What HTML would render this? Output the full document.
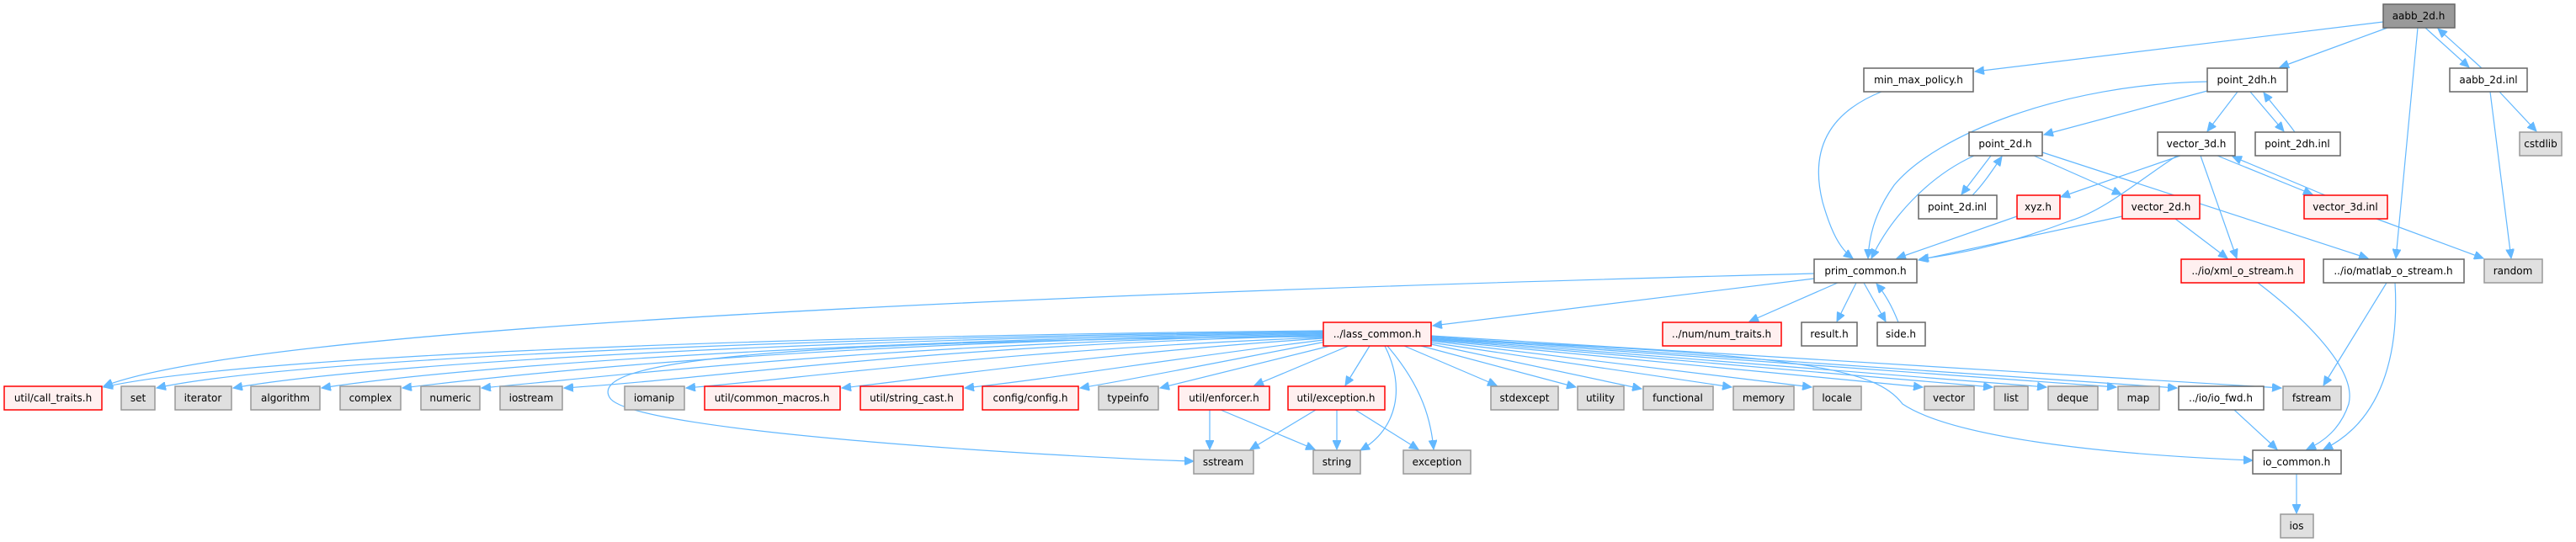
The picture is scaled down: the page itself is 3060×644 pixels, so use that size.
<!DOCTYPE html>
<html><head><meta charset="utf-8"><style>
html,body{margin:0;padding:0;background:#fff}
svg{display:block}
text{font-family:"DejaVu Sans","Liberation Sans",sans-serif;font-size:12px;fill:#000;text-anchor:middle;dominant-baseline:central}
.e{fill:none;stroke:#63b8ff;stroke-width:1.2;marker-end:url(#a)}
.w{fill:#fff;stroke:#666;stroke-width:1.5}
.g{fill:#e0e0e0;stroke:#999;stroke-width:1.5}
.r{fill:#fff0f0;stroke:#f00;stroke-width:1.5}
.k{fill:#999;stroke:#666;stroke-width:1.5}
</style></head><body>
<svg width="3060" height="644" viewBox="0 0 3060 644" xmlns="http://www.w3.org/2000/svg">
<defs><marker id="a" markerUnits="userSpaceOnUse" markerWidth="12" markerHeight="10" refX="11" refY="5" orient="auto"><path d="M0,0 L11,5 L0,10 z" fill="#63b8ff" stroke="#63b8ff"/></marker></defs>
<g>
<path class="e" d="M2831,26 L2346,85"/>
<path class="e" d="M2836,33 L2708,80"/>
<path class="e" d="M2872,33 L2846,307"/>
<path class="e" d="M2881,33 L2933,80"/>
<path class="e" d="M2948,81 L2896,34"/>
<path class="e" d="M2969,109 L3013,156"/>
<path class="e" d="M2958,109 L2983,307"/>
<path class="e" d="M2235,109 C2170,135 2150,180 2165,240 C2175,275 2185,295 2201,307"/>
<path class="e" d="M2622,97 C2450,100 2300,160 2250,220 C2225,255 2220,285 2219,307"/>
<path class="e" d="M2622,108 L2428,160"/>
<path class="e" d="M2658,109 L2622,156"/>
<path class="e" d="M2673,109 L2713,156"/>
<path class="e" d="M2726,157 C2710,135 2700,125 2689,110"/>
<path class="e" d="M2345,185 C2290,210 2245,260 2223,307"/>
<path class="e" d="M2365,185 L2330,231"/>
<path class="e" d="M2343,232 C2355,220 2365,205 2378,186"/>
<path class="e" d="M2416,185 L2520,231"/>
<path class="e" d="M2426,181 L2813,307"/>
<path class="e" d="M2590,185 L2448,234"/>
<path class="e" d="M2586,185 C2540,215 2500,250 2460,262 C2400,285 2340,300 2280,308"/>
<path class="e" d="M2614,185 L2657,307"/>
<path class="e" d="M2634,185 L2747,231"/>
<path class="e" d="M2762,232 L2652,186"/>
<path class="e" d="M2823,260 L2950,307"/>
<path class="e" d="M2521,257 L2279,309"/>
<path class="e" d="M2584,260 L2646,307"/>
<path class="e" d="M2396,257 L2253,307"/>
<path class="e" d="M2682,336 C2740,380 2800,440 2790,480 C2780,510 2760,525 2740,534"/>
<path class="e" d="M2835,336 L2760,458"/>
<path class="e" d="M2845,336 C2850,420 2830,500 2760,534"/>
<path class="e" d="M2654,487 L2705,534"/>
<path class="e" d="M2728,563 L2728,610"/>
<path class="e" d="M2155,331 L1702,387"/>
<path class="e" d="M2183,336 L2078,382"/>
<path class="e" d="M2205,336 L2182,382"/>
<path class="e" d="M2214,336 L2240,382"/>
<path class="e" d="M2255,383 C2248,365 2240,350 2229,337"/>
<path class="e" d="M2155,325 C1200,350 300,390 123,459"/>
<path class="e" d="M1572,393 C1000,398 300,420 123,460"/>
<path class="e" d="M1572,394 C1000,400 350,425 186,461"/>
<path class="e" d="M1572,395 C1000,402 450,430 277,461"/>
<path class="e" d="M1572,396 C1000,404 550,435 382,461"/>
<path class="e" d="M1572,397 C1000,406 650,440 478,461"/>
<path class="e" d="M1572,398 C1050,408 750,445 572,461"/>
<path class="e" d="M1572,399 C1100,410 850,450 670,461"/>
<path class="e" d="M1572,401 C1200,415 950,450 815,461"/>
<path class="e" d="M1572,402 C1300,420 1100,450 1000,461"/>
<path class="e" d="M1572,404 C1400,425 1250,450 1146,461"/>
<path class="e" d="M1575,406 C1450,430 1350,450 1283,461"/>
<path class="e" d="M1580,411 L1378,461"/>
<path class="e" d="M1602,411 L1490,458"/>
<path class="e" d="M1627,411 L1598,458"/>
<path class="e" d="M1572,400 C900,405 700,430 724,472 C745,515 1300,545 1418,548"/>
<path class="e" d="M1645,411 C1670,460 1660,510 1616,535"/>
<path class="e" d="M1648,411 C1690,460 1700,500 1703,534"/>
<path class="e" d="M1668,411 L1778,458"/>
<path class="e" d="M1688,411 L1872,460"/>
<path class="e" d="M1700,409 L1950,462"/>
<path class="e" d="M1700,407 L2057,460"/>
<path class="e" d="M1700,405 L2152,460"/>
<path class="e" d="M1700,404 L2284,460"/>
<path class="e" d="M1700,403 L2367,460"/>
<path class="e" d="M1700,402 L2431,460"/>
<path class="e" d="M1700,401 L2514,460"/>
<path class="e" d="M1700,400 L2586,461"/>
<path class="e" d="M1700,399 L2710,461"/>
<path class="e" d="M1700,403 C2150,420 2230,440 2260,480 C2320,520 2500,540 2676,547"/>
<path class="e" d="M1437,487 L1437,534"/>
<path class="e" d="M1450,487 L1562,534"/>
<path class="e" d="M1563,487 L1485,534"/>
<path class="e" d="M1588,487 L1588,534"/>
<path class="e" d="M1610,487 L1685,534"/>
</g>
<g>
<rect class="k" x="2831" y="5" width="85" height="28"/><text x="2873" y="19">aabb_2d.h</text>
<rect class="w" x="2214" y="81" width="130" height="28"/><text x="2279" y="95">min_max_policy.h</text>
<rect class="w" x="2622" y="81" width="95" height="28"/><text x="2669" y="95">point_2dh.h</text>
<rect class="w" x="2910" y="81" width="92" height="28"/><text x="2956" y="95">aabb_2d.inl</text>
<rect class="w" x="2339" y="157" width="87" height="28"/><text x="2382" y="171">point_2d.h</text>
<rect class="w" x="2563" y="157" width="92" height="28"/><text x="2609" y="171">vector_3d.h</text>
<rect class="w" x="2679" y="157" width="101" height="28"/><text x="2729" y="171">point_2dh.inl</text>
<rect class="g" x="2993" y="157" width="50" height="28"/><text x="3018" y="171">cstdlib</text>
<rect class="w" x="2279" y="232" width="93" height="28"/><text x="2325" y="246">point_2d.inl</text>
<rect class="r" x="2396" y="232" width="51" height="28"/><text x="2421" y="246">xyz.h</text>
<rect class="r" x="2521" y="232" width="92" height="28"/><text x="2567" y="246">vector_2d.h</text>
<rect class="r" x="2737" y="232" width="99" height="28"/><text x="2786" y="246">vector_3d.inl</text>
<rect class="w" x="2155" y="308" width="122" height="28"/><text x="2216" y="322">prim_common.h</text>
<rect class="r" x="2591" y="308" width="146" height="28"/><text x="2664" y="322">../io/xml_o_stream.h</text>
<rect class="w" x="2760" y="308" width="167" height="28"/><text x="2843" y="322">../io/matlab_o_stream.h</text>
<rect class="g" x="2951" y="308" width="69" height="28"/><text x="2985" y="322">random</text>
<rect class="r" x="1572" y="383" width="128" height="28"/><text x="1636" y="397">../lass_common.h</text>
<rect class="r" x="1975" y="383" width="141" height="28"/><text x="2045" y="397">../num/num_traits.h</text>
<rect class="w" x="2140" y="383" width="66" height="28"/><text x="2173" y="397">result.h</text>
<rect class="w" x="2230" y="383" width="57" height="28"/><text x="2258" y="397">side.h</text>
<rect class="r" x="5" y="459" width="116" height="28"/><text x="63" y="473">util/call_traits.h</text>
<rect class="g" x="144" y="459" width="40" height="28"/><text x="164" y="473">set</text>
<rect class="g" x="208" y="459" width="67" height="28"/><text x="241" y="473">iterator</text>
<rect class="g" x="298" y="459" width="82" height="28"/><text x="339" y="473">algorithm</text>
<rect class="g" x="404" y="459" width="72" height="28"/><text x="440" y="473">complex</text>
<rect class="g" x="500" y="459" width="70" height="28"/><text x="535" y="473">numeric</text>
<rect class="g" x="594" y="459" width="74" height="28"/><text x="631" y="473">iostream</text>
<rect class="g" x="742" y="459" width="71" height="28"/><text x="777" y="473">iomanip</text>
<rect class="r" x="837" y="459" width="161" height="28"/><text x="917" y="473">util/common_macros.h</text>
<rect class="r" x="1022" y="459" width="122" height="28"/><text x="1083" y="473">util/string_cast.h</text>
<rect class="r" x="1167" y="459" width="114" height="28"/><text x="1224" y="473">config/config.h</text>
<rect class="g" x="1305" y="459" width="71" height="28"/><text x="1340" y="473">typeinfo</text>
<rect class="r" x="1400" y="459" width="108" height="28"/><text x="1454" y="473">util/enforcer.h</text>
<rect class="r" x="1530" y="459" width="115" height="28"/><text x="1587" y="473">util/exception.h</text>
<rect class="g" x="1771" y="459" width="80" height="28"/><text x="1811" y="473">stdexcept</text>
<rect class="g" x="1874" y="459" width="55" height="28"/><text x="1901" y="473">utility</text>
<rect class="g" x="1952" y="459" width="83" height="28"/><text x="1993" y="473">functional</text>
<rect class="g" x="2059" y="459" width="72" height="28"/><text x="2095" y="473">memory</text>
<rect class="g" x="2154" y="459" width="57" height="28"/><text x="2182" y="473">locale</text>
<rect class="g" x="2286" y="459" width="59" height="28"/><text x="2315" y="473">vector</text>
<rect class="g" x="2369" y="459" width="40" height="28"/><text x="2389" y="473">list</text>
<rect class="g" x="2433" y="459" width="59" height="28"/><text x="2462" y="473">deque</text>
<rect class="g" x="2516" y="459" width="49" height="28"/><text x="2540" y="473">map</text>
<rect class="w" x="2588" y="459" width="101" height="28"/><text x="2638" y="473">../io/io_fwd.h</text>
<rect class="g" x="2712" y="459" width="69" height="28"/><text x="2746" y="473">fstream</text>
<rect class="g" x="1418" y="535" width="71" height="28"/><text x="1453" y="549">sstream</text>
<rect class="g" x="1560" y="535" width="56" height="28"/><text x="1588" y="549">string</text>
<rect class="g" x="1667" y="535" width="80" height="28"/><text x="1707" y="549">exception</text>
<rect class="w" x="2676" y="535" width="105" height="28"/><text x="2728" y="549">io_common.h</text>
<rect class="g" x="2709" y="611" width="39" height="28"/><text x="2728" y="625">ios</text>
</g>
</svg>
</body></html>
